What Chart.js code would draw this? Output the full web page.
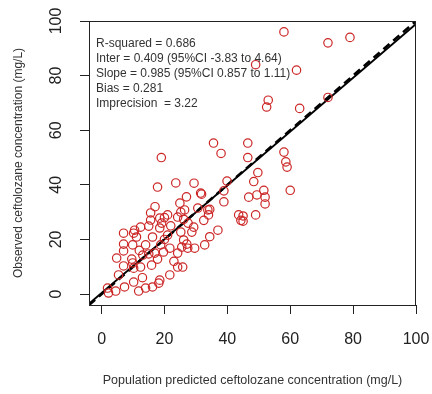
<!DOCTYPE html>
<html>
<head>
<meta charset="utf-8">
<script src="https://cdn.jsdelivr.net/npm/chart.js@4.4.1/dist/chart.umd.min.js"></script>
<style>
  body { margin: 0; background: #fff; }
  #wrap { width: 432px; height: 394px; }
</style>
</head>
<body>
<div id="wrap"><canvas id="chart" width="432" height="394"></canvas></div>
<script>
// ---- data ----
const xTicks = [0, 20, 40, 60, 80, 100];
const yTicks = [0, 20, 40, 60, 80, 100];

const predicted = [
  58, 72, 79, 49, 62, 53, 52.5, 63, 72,
  35.6, 46.5, 19, 38, 46.5, 58, 58.6, 59, 60,
  49.7, 48.4, 46.8, 49.4, 51.6, 52, 52, 49, 45, 45, 43.6, 44.3,
  17.8, 23.6, 29.4, 39.9, 27, 31.8, 38.9, 38.9, 31.5,
  24.9, 25.2, 26.4, 24.2, 26.1, 30.6, 33.8, 34.4, 32.5, 34, 27.5,
  37, 32.8, 34.4, 29.6, 27.4, 25.5, 28.7, 25.2, 26.1, 27.1, 29.3,
  24.2, 21.7, 21, 18.8, 19.7, 16.9, 15, 17.8, 15.9, 13.1, 12.4, 10.2, 9.9, 9.6, 7, 4.8, 7, 7, 9.9,
  7, 10.2, 11.1, 10.5, 12.4, 15, 15.6, 16.2, 18.5, 19.1, 18.5, 15.6,
  21.7, 24.2, 25.8, 18.5, 18.2, 16.2, 14, 11.8, 10.2, 7.3, 4.5, 1.9, 2.2,
  14, 12, 20, 22, 23, 13, 20, 17, 21, 5.4
];
const observed = [
  96, 92, 94, 84, 82, 71, 68.5, 68, 72,
  55.3, 55.3, 50, 51.5, 50, 52, 48.4, 46.5, 38,
  44.5, 41.2, 35.5, 36.3, 38, 35.5, 33, 29, 28.6, 26.7, 29, 27,
  39.2, 40.7, 40.6, 41.4, 35.6, 36.6, 37.8, 33.8, 37,
  33.3, 30, 30.8, 28.2, 27.4, 31.5, 30.8, 31, 27, 29, 26,
  23.4, 18, 21, 16.8, 16.8, 17.2, 22.7, 22.7, 19.8, 18.3, 24.5,
  15, 16.8, 21.6, 18, 15.4, 15, 14.7, 12.8, 10.6, 14.3, 9.9, 9.5, 11.4, 12.8, 10.3, 13.2, 15.8, 18.3, 18,
  22.3, 22.3, 20.9, 23.4, 24.5, 24.9, 27.1, 20.9, 24.2, 26, 27.8, 29.7,
  7, 9.9, 9.9, 5.1, 4, 2.6, 2.2, 1.1, 4.4, 2.6, 1.1, 2.2, 0.4,
  18, 16, 20, 25, 12, 6, 28, 32, 29, 7
];

const intercept = 0.409;
const slope = 0.985;
const axisMin = -4, axisMax = 100;

const statLines = [
  "R-squared = 0.686",
  "Inter = 0.409 (95%CI -3.83 to 4.64)",
  "Slope = 0.985 (95%CI 0.857 to 1.11)",
  "Bias = 0.281",
  "Imprecision  = 3.22"
];

const points = predicted.map((x, i) => ({ x: x, y: observed[i] }));
const fitLine = [axisMin, axisMax].map(x => ({ x: x, y: intercept + slope * x }));
const identityLine = [axisMin, axisMax].map(x => ({ x: x, y: x }));

const FONT = "'Liberation Sans', Arial, sans-serif";

// box, stats text, rotated y tick labels (R style)
const boxPlugin = {
  id: 'boxPlugin',
  afterDatasetsDraw(chart) {
    const { ctx, chartArea: a } = chart;
    ctx.save();
    ctx.strokeStyle = '#222';
    ctx.lineWidth = 1;
    ctx.strokeRect(a.left + 0.5, a.top + 0.5, a.right - a.left - 1, a.bottom - a.top);
    ctx.fillStyle = '#333';
    ctx.font = '12px ' + FONT;
    ctx.textBaseline = 'middle';
    statLines.forEach((t, i) => ctx.fillText(t, a.left + 7, 44 + i * 14.8));
    ctx.restore();
  },
  afterDraw(chart) {
    const { ctx } = chart;
    const ys = chart.scales.y;
    ctx.save();
    ctx.fillStyle = '#222';
    ctx.font = '16px ' + FONT;
    ctx.textAlign = 'center';
    ctx.textBaseline = 'middle';
    yTicks.forEach(v => {
      ctx.save();
      ctx.translate(57, ys.getPixelForValue(v));
      ctx.rotate(-Math.PI / 2);
      ctx.fillText(String(v), 0, 0);
      ctx.restore();
    });
    ctx.restore();
  }
};

new Chart(document.getElementById('chart'), {
  type: 'scatter',
  data: {
    datasets: [
      {
        data: points,
        showLine: false,
        pointStyle: 'circle',
        pointRadius: 4.2,
        pointBorderWidth: 1.2,
        pointBackgroundColor: 'rgba(0,0,0,0)',
        pointBorderColor: 'rgb(204,38,38)'
      },
      {
        data: fitLine,
        showLine: true,
        pointRadius: 0,
        borderColor: '#000',
        borderWidth: 1.8
      },
      {
        data: identityLine,
        showLine: true,
        pointRadius: 0,
        borderColor: '#000',
        borderWidth: 2.6,
        borderDash: [8, 5]
      }
    ]
  },
  options: {
    responsive: false,
    animation: false,
    layout: { padding: { top: 21, right: 16, left: 0, bottom: 0 } },
    plugins: { legend: { display: false }, tooltip: { enabled: false } },
    scales: {
      x: {
        type: 'linear',
        min: axisMin,
        max: axisMax,
        afterBuildTicks: s => { s.ticks = xTicks.map(v => ({ value: v })); },
        afterFit: s => { s.height = 89; s.paddingLeft = 0; s.paddingRight = 0; },
        border: { display: false },
        grid: { drawOnChartArea: false, drawTicks: true, tickLength: 9, color: '#222' },
        ticks: { color: '#222', padding: 16, font: { family: FONT, size: 16 } },
        title: {
          display: true,
          text: 'Population predicted ceftolozane concentration (mg/L)',
          color: '#333',
          font: { family: FONT, size: 12.5 },
          padding: { top: 0, bottom: 6 }
        }
      },
      y: {
        type: 'linear',
        min: axisMin,
        max: axisMax,
        afterBuildTicks: s => { s.ticks = yTicks.map(v => ({ value: v })); },
        afterFit: s => { s.width = 89; s.paddingTop = 0; s.paddingBottom = 0; },
        border: { display: false },
        grid: { drawOnChartArea: false, drawTicks: true, tickLength: 9, color: '#222' },
        ticks: { color: 'rgba(0,0,0,0)', font: { family: FONT, size: 16 } },
        title: {
          display: true,
          text: 'Observed ceftolozane concentration (mg/L)',
          color: '#333',
          font: { family: FONT, size: 12 },
          padding: { top: 11, bottom: 0 }
        }
      }
    }
  },
  plugins: [boxPlugin]
});
</script>
</body>
</html>
